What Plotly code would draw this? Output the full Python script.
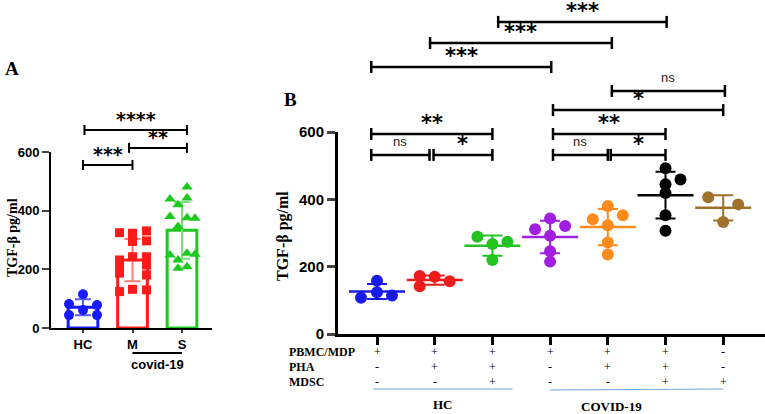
import plotly.graph_objects as go
import numpy as np

W, H = 765, 414

# ---------------- Panel A data ----------------
a_groups = ["HC", "M", "S"]
a_hc = [115, 82, 78, 61, 44, 44]
a_m = [325, 323, 331, 297, 295, 243, 243, 232, 215, 215, 187, 181, 132, 130, 124]
a_s = [481, 443, 440, 420, 380, 376, 374, 346, 255, 251, 249, 232, 209, 204]
a_ticks = [0, 200, 400, 600]
# jitter of each dot in pixels (layout only)
a_hc_dx = [0, -14, 14, 0, -14, 14]
a_m_dx = [-13, 0, 14, 14, 0, 0, 14, -13, -13, 14, -13, 14, 0, 14, -13]
a_s_dx = [5, 5, -12, -4, -12, 5, 13, -4, 5, 13, -12, -4, 5, -4]
a_sig = [(0, 1, 556, "***"), (0.93, 2.1, 614, "**"), (0.03, 2.1, 675, "****")]

# ---------------- Panel B data ----------------
b_groups = ["g1", "g2", "g3", "g4", "g5", "g6", "g7"]
b_vals = [
    [158, 124, 108, 114],
    [172, 170, 157, 142],
    [289, 274, 267, 220],
    [343, 321, 311, 292, 246, 215],
    [380, 353, 341, 323, 272, 236],
    [492, 459, 445, 419, 353, 307],
    [406, 385, 333],
]
b_dx = [
    [0, 0, -16, 15],
    [-15, 0, 15, -15],
    [-15, 15, 0, 0],
    [0, 15, -15, 0, 0, 0],
    [0, 15, -15, 0, 0, 0],
    [0, 15, 0, 0, 0, 0],
    [-15, 15, 0],
]
b_colors = ["#1a1ae6", "#ee1c1c", "#22c322", "#a21ee0", "#ff8a1e", "#000000", "#a0712c"]
b_ticks = [0, 200, 400, 600]
b_rows = ["PBMC/MDP", "PHA", "MDSC"]
b_pbmc = ["+", "+", "+", "+", "+", "+", "-"]
b_pha = ["-", "+", "+", "-", "+", "+", "-"]
b_mdsc = ["-", "-", "+", "-", "-", "+", "+"]
b_sig = [
    (-0.1, 2.0, 594, "**"),
    (-0.1, 0.91, 532, "ns"),
    (0.98, 2.0, 532, "*"),
    (2.1, 5.02, 927, "***"),
    (0.92, 4.07, 864, "***"),
    (-0.1, 3.02, 793, "***"),
    (4.07, 6.03, 722, "ns"),
    (3.05, 6.0, 665, "*"),
    (3.05, 5.0, 594, "**"),
    (3.05, 4.0, 532, "ns"),
    (4.05, 5.0, 532, "*"),
]

# ---------------- geometry ----------------
A_X0, A_DX = 83, 49.5       # pixel of HC, pixels per category
A_Y0, A_Y600 = 328, 152     # pixel rows of 0 and 600
B_X0, B_DX = 377, 57.7
B_Y0, B_Y600 = 334, 132


def ppx(x):
    return x / W


def ppy(y):
    return 1 - y / H


def a_pix(v):
    return A_Y0 - v * (A_Y0 - A_Y600) / 600


def b_pix(v):
    return B_Y0 - v * (B_Y0 - B_Y600) / 600


SANS = "Liberation Sans"
SERIF = "Liberation Serif"
STAR = "DejaVu Sans"

fig = go.Figure()

a_cols = ["#1a1aff", "#ff1a1a", "#1ec81e"]
a_err = ["#5a5aff", "#ff7a7a", "#7ae07a"]
a_sym = ["circle", "square", "triangle-up"]
a_data = [a_hc, a_m, a_s]
a_dxs = [a_hc_dx, a_m_dx, a_s_dx]
a_size = [10, 9, 10]

for i, (vals, col) in enumerate(zip(a_data, a_cols)):
    m = float(np.mean(vals))
    sd = float(np.std(vals, ddof=1))
    fig.add_trace(go.Bar(
        x=[i], y=[m], width=0.6, xaxis="x", yaxis="y",
        marker=dict(color="white", line=dict(color=col, width=3)),
        error_y=dict(type="data", array=[sd], visible=True, color=a_err[i],
                     thickness=2, width=8),
        showlegend=False, hoverinfo="skip"))

for i, (vals, col) in enumerate(zip(a_data, a_cols)):
    xs = [i + d / A_DX for d in a_dxs[i]]
    fig.add_trace(go.Scatter(
        x=xs, y=vals, mode="markers", xaxis="x", yaxis="y",
        marker=dict(symbol=a_sym[i], size=a_size[i], color=col),
        showlegend=False, cliponaxis=False))

# Panel B mean + SD
for i, vals in enumerate(b_vals):
    m = float(np.mean(vals))
    sd = float(np.std(vals, ddof=1))
    fig.add_trace(go.Scatter(
        x=[i], y=[m], mode="markers", xaxis="x2", yaxis="y2",
        marker=dict(symbol="line-ew", size=40,
                    line=dict(color=b_colors[i], width=2.5)),
        error_y=dict(type="data", array=[sd], visible=True, color=b_colors[i],
                     thickness=2, width=10),
        showlegend=False, cliponaxis=False))

for i, vals in enumerate(b_vals):
    xs = [i + d / B_DX for d in b_dx[i]]
    fig.add_trace(go.Scatter(
        x=xs, y=vals, mode="markers", xaxis="x2", yaxis="y2",
        marker=dict(symbol="circle", size=12, color=b_colors[i]),
        showlegend=False, cliponaxis=False))

shapes = []
ann = []


def text(x, y, s, font, xref="paper", xanchor="center", angle=0):
    ann.append(dict(x=x, y=ppy(y), xref=xref, yref="paper", text=s,
                    showarrow=False, xanchor=xanchor, yanchor="middle",
                    textangle=angle, font=font))


def bracket(xref, x0, x1, ypix, label, tick, lw, star_size, ns_size):
    yp = ppy(ypix)
    shapes.append(dict(type="line", xref=xref, yref="paper", x0=x0, x1=x1,
                       y0=yp, y1=yp, line=dict(color="black", width=lw)))
    for xx in (x0, x1):
        shapes.append(dict(type="line", xref=xref, yref="paper", x0=xx, x1=xx,
                           y0=ppy(ypix - tick), y1=ppy(ypix + tick),
                           line=dict(color="black", width=lw)))
    xm = (x0 + x1) / 2
    if label == "ns":
        text(xm, ypix - 13, "ns", dict(family=SANS, size=ns_size, color="#222"),
             xref=xref)
    else:
        text(xm, ypix - 13 + 2, "<b>" + label + "</b>",
             dict(family=STAR, size=star_size, color="black"), xref=xref)


for x0, x1, v, lab in a_sig:
    bracket("x", x0, x1, a_pix(v), lab, 5, 2, 19, 12)
for x0, x1, v, lab in b_sig:
    bracket("x2", x0, x1, b_pix(v), lab, 6, 2.5, 21, 13)

# Panel A extras
shapes.append(dict(type="line", xref="x", yref="paper", x0=1, x1=2,
                   y0=ppy(353), y1=ppy(353), line=dict(color="black", width=2)))
text(1.5, 364, "<b>covid-19</b>", dict(family=SANS, size=13, color="black"), xref="x")
text(ppx(12), 69, "<b>A</b>", dict(family=SERIF, size=19, color="black"))
text(ppx(12), 238, "<b>TGF-β pg/ml</b>", dict(family=SERIF, size=14, color="black"),
     angle=-90)

# Panel B extras
text(ppx(290), 100, "<b>B</b>", dict(family=SERIF, size=19, color="black"))
text(ppx(283), 236, "<b>TGF-β pg/ml</b>", dict(family=SERIF, size=16, color="black"),
     angle=-90)
row_y = [352, 367, 382]
for r, lab in enumerate(b_rows):
    text(ppx(287), row_y[r], "<b>" + lab + "</b>",
         dict(family=SERIF, size=12, color="black"), xanchor="left")
for r, row in enumerate([b_pbmc, b_pha, b_mdsc]):
    for i, s in enumerate(row):
        text(i, row_y[r], s, dict(family=SERIF, size=12, color="black"), xref="x2")
shapes.append(dict(type="line", xref="x2", yref="paper", x0=-0.07, x1=2.35,
                   y0=ppy(389), y1=ppy(389), line=dict(color="#6fa8dc", width=1)))
shapes.append(dict(type="line", xref="x2", yref="paper", x0=3.0, x1=6.0,
                   y0=ppy(390), y1=ppy(389), line=dict(color="#6fa8dc", width=1)))
text(1.14, 404, "<b>HC</b>", dict(family=SERIF, size=13, color="black"), xref="x2")
text(4.07, 406, "<b>COVID-19</b>", dict(family=SERIF, size=13, color="black"),
     xref="x2")

fig.update_layout(
    width=W, height=H, margin=dict(l=0, r=0, t=0, b=0, autoexpand=False),
    paper_bgcolor="white", plot_bgcolor="white",
    barmode="overlay", showlegend=False, hovermode=False,
    shapes=shapes, annotations=ann,
    xaxis=dict(domain=[ppx(51), ppx(212)], automargin=False,
               range=[(51 - A_X0) / A_DX, (212 - A_X0) / A_DX],
               tickvals=[0, 1, 2], ticktext=a_groups, showline=True,
               linecolor="black", linewidth=2, ticks="outside", ticklen=3,
               tickwidth=2, showgrid=False, zeroline=False,
               tickfont=dict(family=SANS, size=13, color="black", weight="bold")),
    yaxis=dict(domain=[ppy(A_Y0), ppy(A_Y600)], range=[0, 600], automargin=False,
               tickvals=a_ticks, showline=True, linecolor="black", linewidth=2,
               ticks="outside", ticklen=7, tickwidth=2, showgrid=False,
               zeroline=False,
               tickfont=dict(family=SANS, size=13, color="black", weight="bold")),
    xaxis2=dict(domain=[ppx(338), 1.0], automargin=False,
                range=[(338 - B_X0) / B_DX, (765 - B_X0) / B_DX],
                tickvals=list(range(7)), showticklabels=False, showline=True,
                linecolor="black", linewidth=3, ticks="outside", ticklen=8,
                tickwidth=3, tickcolor="black", showgrid=False, zeroline=False,
                anchor="y2"),
    yaxis2=dict(domain=[ppy(B_Y0), ppy(B_Y600)], range=[0, 600], automargin=False,
                tickvals=b_ticks, showline=True, linecolor="black", linewidth=3,
                ticks="outside", ticklen=8, tickwidth=3, showgrid=False,
                zeroline=False, anchor="x2",
                tickfont=dict(family=SANS, size=15, color="black", weight="bold")),
)

fig.write_html("out.html", config={"displayModeBar": False},
               post_script="document.body.style.margin='0';"
                           "document.body.style.overflow='hidden';")
